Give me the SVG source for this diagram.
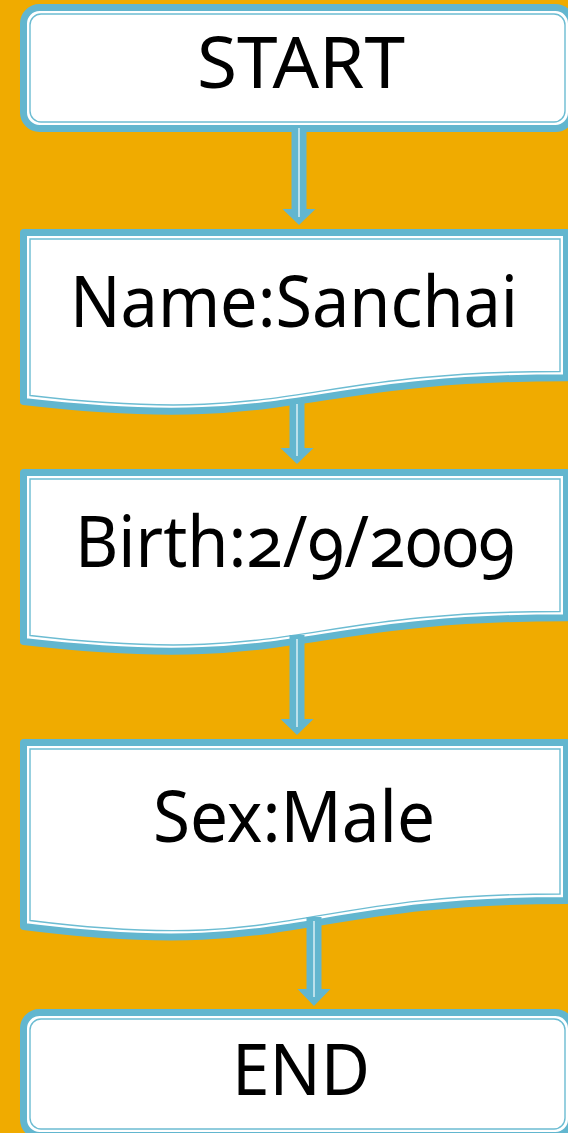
<svg xmlns="http://www.w3.org/2000/svg" width="568" height="1133" viewBox="0 0 568 1133">
  <style>
    .outer { fill: #FFFFFF; stroke: #62B6CF; stroke-width: 7; stroke-linejoin: round; }
    .inner { fill: none; stroke: #6CBCD2; stroke-width: 1.4; }
    .lbl { font-family: "Noto Sans", "Liberation Sans", sans-serif; font-size: 71px; fill: #000000; text-anchor: middle; font-variant-numeric: oldstyle-nums; font-feature-settings: "onum" 1; }
    .arrow { fill: #62B6CF; }
    .core { stroke: #D3ECF3; stroke-width: 1.6; fill: none; }
  </style>
  <rect x="0" y="0" width="568" height="1133" fill="#F0AB00"/>

  <g id="node-start">
    <rect class="outer" x="23.5" y="7.5" width="548" height="121" rx="16"/>
    <rect class="inner" x="30" y="14" width="535" height="108" rx="11"/>
    <text class="lbl" x="301" y="88" textLength="208" lengthAdjust="spacingAndGlyphs">START</text>
  </g>

  <g id="node-name">
    <path class="outer" d="M23.5,232.5 H566.5 V377.7 C295,377.7 295,433 23.5,401.5 Z"/>
    <path class="inner" d="M30,239 H560 V371.5 C295,371.5 295,426.5 30,395.5 Z"/>
    <text class="lbl" x="294" y="327" textLength="448" lengthAdjust="spacingAndGlyphs">Name:Sanchai</text>
  </g>

  <g id="node-birth">
    <path class="outer" d="M23.5,472.5 H566.5 V617.7 C295,617.7 295,673 23.5,641.5 Z"/>
    <path class="inner" d="M30,479 H560 V611.5 C295,611.5 295,666.5 30,635.5 Z"/>
    <text class="lbl" x="295" y="567" textLength="440" lengthAdjust="spacingAndGlyphs">Birth:2/9/2009</text>
  </g>

  <g id="node-sex">
    <path class="outer" d="M23.5,742.5 H566.5 V900.5 C295,900.5 295,960.7 23.5,926.5 Z"/>
    <path class="inner" d="M30,749 H560 V894 C295,894 295,954 30,920.5 Z"/>
    <text class="lbl" x="294" y="842" textLength="282" lengthAdjust="spacingAndGlyphs">Sex:Male</text>
  </g>

  <g id="node-end">
    <rect class="outer" x="23.5" y="1012.5" width="548" height="123" rx="16"/>
    <rect class="inner" x="30" y="1019" width="535" height="110" rx="11"/>
    <text class="lbl" x="301" y="1095" textLength="138" lengthAdjust="spacingAndGlyphs">END</text>
  </g>

  <g id="connectors">
    <polygon class="arrow" points="291.5,125 306.5,125 306.5,209 315.5,209 299,225 282.5,209 291.5,209"/>
    <path class="core" d="M299,128 V217"/>
    <polygon class="arrow" points="289.5,400 304.5,400 304.5,448 313.5,448 297,464 280.5,448 289.5,448"/>
    <path class="core" d="M297,404 V456"/>
    <polygon class="arrow" points="289.5,635 304.5,635 304.5,719 313.5,719 297,735 280.5,719 289.5,719"/>
    <path class="core" d="M297,639 V727"/>
    <polygon class="arrow" points="306.5,917 321.5,917 321.5,989 330.5,989 314,1006 297.5,989 306.5,989"/>
    <path class="core" d="M314,921 V997"/>
  </g>
</svg>
